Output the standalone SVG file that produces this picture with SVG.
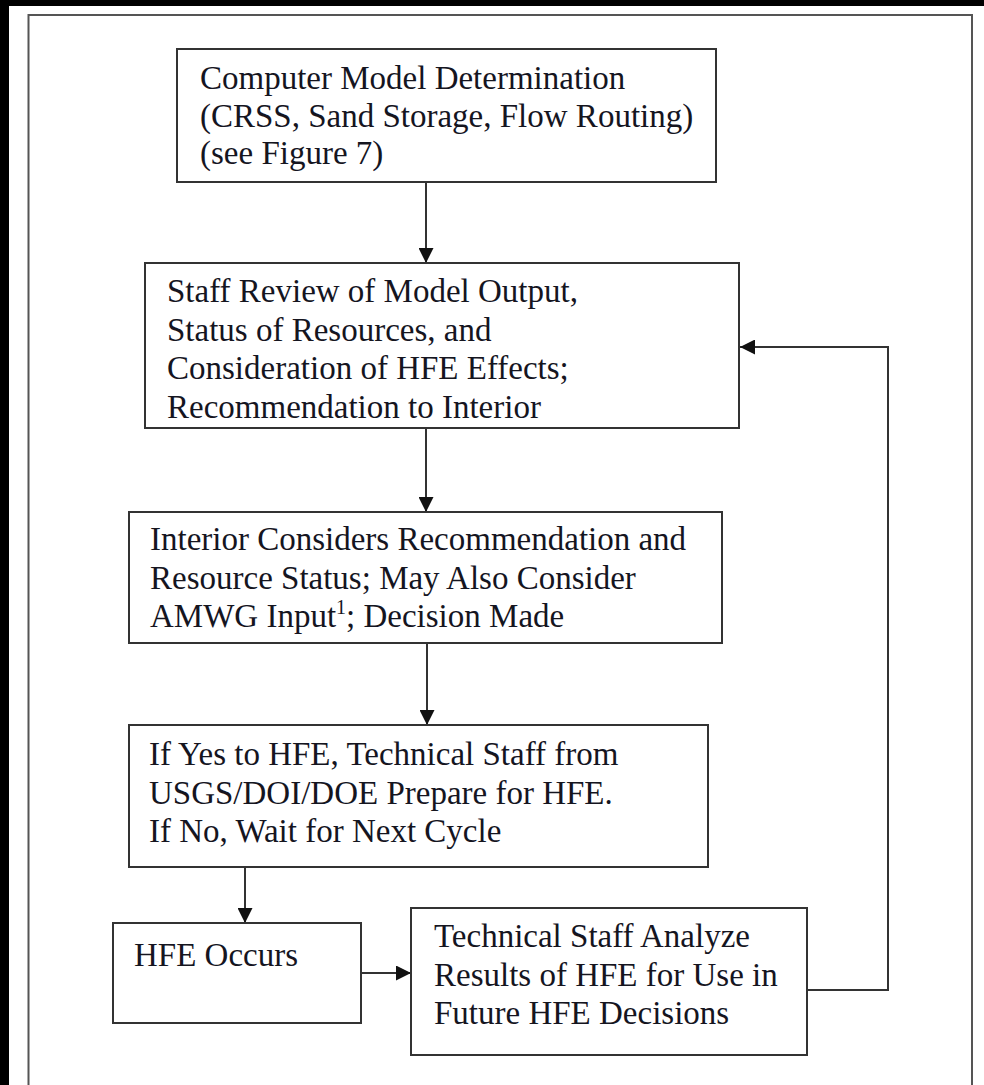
<svg xmlns="http://www.w3.org/2000/svg" width="984" height="1085" viewBox="0 0 984 1085">
<style>
.box{fill:#fff;stroke:#333;stroke-width:2}
.t{font-family:"Liberation Serif","Times New Roman",serif;font-size:33px;fill:#15151f}
.c{fill:none;stroke:#333;stroke-width:2}
</style>
<defs>
<marker id="ah" viewBox="0 0 10 10" refX="10" refY="5" markerWidth="15" markerHeight="15" markerUnits="userSpaceOnUse" orient="auto">
<path d="M0,0 L10,5 L0,10 z" fill="#111"/>
</marker>
</defs>
<rect x="0" y="0" width="984" height="1085" fill="#000"/>
<rect x="9" y="6" width="975" height="1079" fill="#fff"/>
<rect x="28.5" y="15" width="943.5" height="1100" fill="none" stroke="#555" stroke-width="2"/>

<g id="connectors">
<line class="c" x1="426" y1="182" x2="426" y2="263" marker-end="url(#ah)"/>
<line class="c" x1="426" y1="428" x2="426" y2="512" marker-end="url(#ah)"/>
<line class="c" x1="427" y1="643" x2="427" y2="725" marker-end="url(#ah)"/>
<line class="c" x1="245" y1="867" x2="245" y2="923" marker-end="url(#ah)"/>
<line class="c" x1="361" y1="973" x2="411" y2="973" marker-end="url(#ah)"/>
<polyline class="c" points="807,990 888,990 888,347 740,347" marker-end="url(#ah)"/>
</g>

<g id="node1">
<rect class="box" x="177" y="49" width="539" height="133"/>
<text class="t" x="200" y="89">Computer Model Determination</text>
<text class="t" x="200" y="126.5">(CRSS, Sand Storage, Flow Routing)</text>
<text class="t" x="200" y="163.5">(see Figure 7)</text>
</g>

<g id="node2">
<rect class="box" x="145" y="263" width="594" height="165"/>
<text class="t" x="167" y="302">Staff Review of Model Output,</text>
<text class="t" x="167" y="340.5">Status of Resources, and</text>
<text class="t" x="167" y="379">Consideration of HFE Effects;</text>
<text class="t" x="167" y="417.5">Recommendation to Interior</text>
</g>

<g id="node3">
<rect class="box" x="129" y="512" width="593" height="131"/>
<text class="t" x="150" y="550">Interior Considers Recommendation and</text>
<text class="t" x="150" y="588.5">Resource Status; May Also Consider</text>
<text class="t" x="150" y="627">AMWG Input<tspan font-size="20" dy="-13">1</tspan><tspan dy="13">; Decision Made</tspan></text>
</g>

<g id="node4">
<rect class="box" x="129" y="725" width="579" height="142"/>
<text class="t" x="149" y="765">If Yes to HFE, Technical Staff from</text>
<text class="t" x="149" y="803.5">USGS/DOI/DOE Prepare for HFE.</text>
<text class="t" x="149" y="842">If No, Wait for Next Cycle</text>
</g>

<g id="node5">
<rect class="box" x="113" y="923" width="248" height="100"/>
<text class="t" x="134" y="966">HFE Occurs</text>
</g>

<g id="node6">
<rect class="box" x="411" y="908" width="396" height="147"/>
<text class="t" x="434" y="947">Technical Staff Analyze</text>
<text class="t" x="434" y="985.5">Results of HFE for Use in</text>
<text class="t" x="434" y="1024">Future HFE Decisions</text>
</g>
</svg>
